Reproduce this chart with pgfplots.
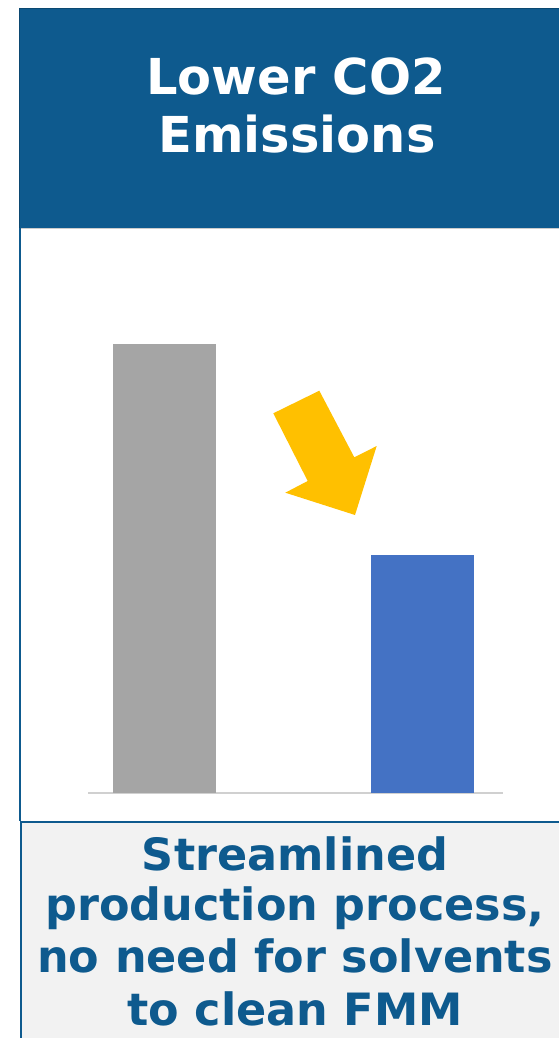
\documentclass[border=0pt]{standalone}
\usepackage{fontspec}
\setmainfont{DejaVu Sans}
\usepackage{pgfplots}
\pgfplotsset{compat=1.18}
\definecolor{hdrblue}{HTML}{0E5A8E}
\definecolor{bargray}{HTML}{A5A5A5}
\definecolor{barblue}{HTML}{4472C4}
\definecolor{arrowgold}{HTML}{FFC000}
\definecolor{boxgray}{HTML}{F2F2F2}
\definecolor{baseline}{HTML}{D0D0D0}
\begin{document}
\begin{tikzpicture}
\useasboundingbox (0pt,0pt) rectangle (559pt,-1038pt);
\clip (0pt,0pt) rectangle (559pt,-1038pt);
% pixel coordinates, origin top left
\begin{scope}[x=1pt,y=-1pt]
% header
\fill[hdrblue] (19,8) rectangle (570,228);
\draw[hdrblue!80!black, line width=0.8pt] (19,8) -- (570,8);
\draw[hdrblue!80!black, line width=0.8pt] (19,8) -- (19,228);
% white chart panel
\draw[gray!40, line width=0.8pt] (20,228.5) -- (570,228.5);
\draw[hdrblue, line width=1.2pt] (20,228) -- (20,821);
% bottom text box
\fill[boxgray] (21,821) rectangle (570,1045);
\draw[hdrblue, line width=2.5pt] (20,822) -- (570,822);
\draw[hdrblue, line width=2pt] (20.5,821) -- (20.5,1045);
% title
\node[anchor=base, text=white, inner sep=0pt, font=\fontsize{49.5}{58}\selectfont\bfseries] at (296,95) {Lower CO2};
\node[anchor=base, text=white, inner sep=0pt, font=\fontsize{49.5}{58}\selectfont\bfseries] at (297,153) {Emissions};
% bottom caption
\foreach \txt/\yy in {Streamlined/870.5, {production process,}/920, {no need for solvents}/972.5, {to clean FMM}/1025}
  \node[anchor=base, text=hdrblue, inner sep=0pt, font=\fontsize{44.5}{52}\selectfont\bfseries] at (295,\yy) {\txt};
\end{scope}
% chart
\begin{axis}[
    at={(88pt,-793pt)}, anchor=south west,
    scale only axis,
    width=415pt, height=493.9pt,
    xmin=-0.2965, xmax=1.312,
    ymin=0, ymax=110,
    axis x line*=bottom,
    axis y line=none,
    x axis line style={draw=baseline, line width=1.3pt, -},
    xtick=\empty, ytick=\empty,
    ybar, bar width=103pt,
]
\addplot[ybar, bar shift=0pt, fill=bargray, draw=none] coordinates {(0,100)};
\addplot[ybar, bar shift=0pt, fill=barblue, draw=none] coordinates {(1,53)};
\end{axis}
% arrow
\begin{scope}[x=1pt,y=-1pt]
\fill[arrowgold] (273.3,413.3) -- (319.3,390.7) -- (354.3,457.3) -- (376.7,446)
  -- (355,515) -- (285.3,492.7) -- (307.7,481) -- cycle;
\end{scope}
\end{tikzpicture}
\end{document}
